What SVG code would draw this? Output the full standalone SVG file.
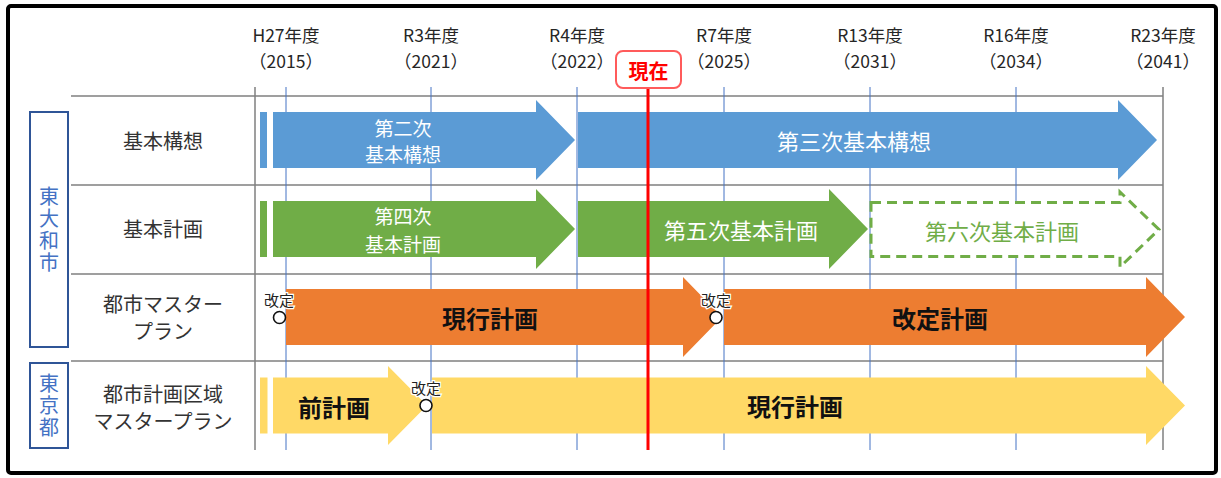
<svg xmlns="http://www.w3.org/2000/svg" width="1221" height="478" viewBox="0 0 1221 478">
<style>
text{font-family:"Noto Sans CJK JP","Noto Sans",sans-serif;dominant-baseline:central;text-anchor:middle}
.yr{font-size:17.5px;fill:#262626}
.lbl{font-size:20px;fill:#333}
.org{font-size:20px;fill:#4472c4;writing-mode:vertical-rl;letter-spacing:2px}
.wt{font-size:19px;fill:#fff}
.wtb{font-size:22px;fill:#fff}
.bk{font-size:24px;font-weight:bold;fill:#111}
.kt{font-size:15px;fill:#222;stroke:#fff;stroke-width:2.5px;paint-order:stroke}
.hl{stroke:#7f7f7f;stroke-width:1.5}
.vg{stroke:#7f7f7f;stroke-width:1.5}
.vb{stroke:#4472c4;stroke-width:1}
.blue{fill:#5b9bd5}
.green{fill:#70ad47}
.orange{fill:#ed7d31}
.yellow{fill:#ffd966}
.circ{fill:#fff;stroke:#111;stroke-width:1.6}
</style>
<rect x="8" y="6" width="1208" height="467" rx="3" fill="#fff" stroke="#000" stroke-width="4"/>

<g id="grid">
<line class="hl" x1="71" y1="96" x2="1163" y2="96"/>
<line class="hl" x1="71" y1="185" x2="1163" y2="185"/>
<line class="hl" x1="71" y1="274" x2="1163" y2="274"/>
<line class="hl" x1="71" y1="361" x2="1163" y2="361"/>
<line class="vg" x1="255" y1="87" x2="255" y2="450"/>
<line class="vg" x1="1163" y1="87" x2="1163" y2="450"/>
<line class="vb" x1="286" y1="87" x2="286" y2="450"/>
<line class="vb" x1="431" y1="87" x2="431" y2="450"/>
<line class="vb" x1="577" y1="87" x2="577" y2="450"/>
<line class="vb" x1="724" y1="87" x2="724" y2="450"/>
<line class="vb" x1="870" y1="87" x2="870" y2="450"/>
<line class="vb" x1="1016" y1="87" x2="1016" y2="450"/>
</g>

<g id="years">
<text class="yr" x="286" y="34.5">H27年度</text><text class="yr" x="286" y="60">（2015）</text>
<text class="yr" x="431" y="34.5">R3年度</text><text class="yr" x="431" y="60">（2021）</text>
<text class="yr" x="577" y="34.5">R4年度</text><text class="yr" x="577" y="60">（2022）</text>
<text class="yr" x="724" y="34.5">R7年度</text><text class="yr" x="724" y="60">（2025）</text>
<text class="yr" x="870" y="34.5">R13年度</text><text class="yr" x="870" y="60">（2031）</text>
<text class="yr" x="1016" y="34.5">R16年度</text><text class="yr" x="1016" y="60">（2034）</text>
<text class="yr" x="1163" y="34.5">R23年度</text><text class="yr" x="1163" y="60">（2041）</text>
</g>

<g id="org-higashiyamato">
<rect x="30" y="112" width="38" height="235" fill="none" stroke="#2f5597" stroke-width="2"/>
<text class="org" x="49" y="230">東大和市</text>
</g>
<g id="org-tokyo">
<rect x="30" y="363" width="38" height="85" fill="none" stroke="#2f5597" stroke-width="2"/>
<text class="org" x="49" y="406">東京都</text>
</g>

<g id="row-labels">
<text class="lbl" x="163" y="140">基本構想</text>
<text class="lbl" x="163" y="228">基本計画</text>
<text class="lbl" x="163" y="303">都市マスター</text>
<text class="lbl" x="163" y="330">プラン</text>
<text class="lbl" x="163" y="393">都市計画区域</text>
<text class="lbl" x="163" y="420">マスタープラン</text>
</g>

<g id="kihon-koso">
<rect class="blue" x="260" y="112" width="7" height="56"/>
<path class="blue" d="M273,112 H536 V100 L575,140 L536,180 V168 H273 Z"/>
<text class="wt" x="403" y="127">第二次</text>
<text class="wt" x="403" y="153">基本構想</text>
<path class="blue" d="M578,112 H1118 V100 L1157,140 L1118,180 V168 H578 Z"/>
<text class="wtb" x="854" y="140">第三次基本構想</text>
</g>

<g id="kihon-keikaku">
<rect class="green" x="260" y="201" width="7" height="56"/>
<path class="green" d="M273,201 H536 V189 L575,229 L536,269 V257 H273 Z"/>
<text class="wt" x="403" y="215">第四次</text>
<text class="wt" x="403" y="243">基本計画</text>
<path class="green" d="M578,201 H829 V189 L868,229 L829,269 V257 H578 Z"/>
<text class="wtb" x="741" y="229">第五次基本計画</text>
<path d="M871,202.5 H1120 V192 L1159,229.5 L1120,267 V256.5 H871 Z" fill="#fff" stroke="#70ad47" stroke-width="3" stroke-dasharray="10,6"/>
<text class="wtb" x="1002" y="230" style="fill:#70ad47">第六次基本計画</text>
</g>

<g id="toshi-mp">
<path class="orange" d="M286,289 H683 V277 L722,317 L683,357 V345 H286 Z"/>
<text class="bk" x="490" y="317">現行計画</text>
<path class="orange" d="M724,289 H1146 V277 L1185,317 L1146,357 V345 H724 Z"/>
<text class="bk" x="940" y="317">改定計画</text>
</g>

<g id="tokyo-mp">
<rect class="yellow" x="260" y="377.5" width="7.5" height="56"/>
<path class="yellow" d="M273,377.5 H388 V366 L427,405.5 L388,445 V433.5 H273 Z"/>
<text class="bk" x="334" y="406">前計画</text>
<path class="yellow" d="M432,377.5 H1146 V366 L1185,405.5 L1146,445 V433.5 H432 Z"/>
<text class="bk" x="795" y="405">現行計画</text>
</g>

<g id="now">
<line x1="648" y1="88" x2="648" y2="450" stroke="#ff0000" stroke-width="3"/>
<rect x="616" y="51" width="65" height="37" rx="7" fill="#fff" stroke="#ff5b5b" stroke-width="2"/>
<text x="648.5" y="70" style="font-size:20px;font-weight:bold;fill:#ff0000">現在</text>
</g>

<g id="revisions">
<text class="kt" x="279" y="299">改定</text>
<circle class="circ" cx="279.5" cy="317.5" r="6"/>
<text class="kt" x="716" y="299">改定</text>
<circle class="circ" cx="716" cy="317.5" r="6"/>
<text class="kt" x="426" y="387">改定</text>
<circle class="circ" cx="426" cy="405.5" r="6"/>
</g>
</svg>
